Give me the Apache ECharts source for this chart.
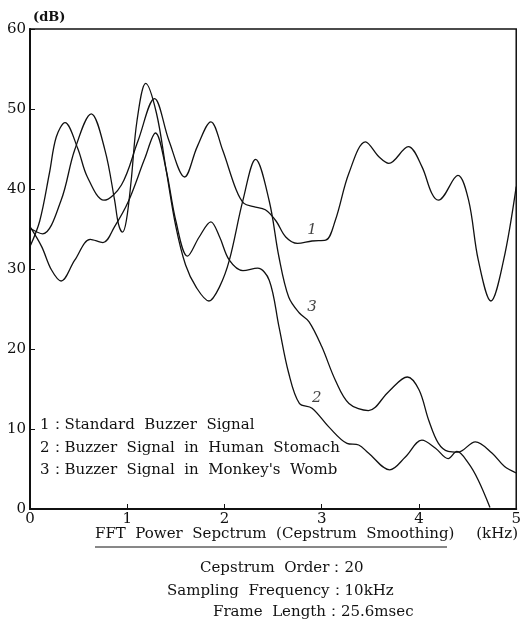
<!DOCTYPE html>
<html>
<head>
<meta charset="utf-8">
<script src="https://cdn.jsdelivr.net/npm/echarts@6/dist/echarts.min.js"></script>
<style>
html,body{margin:0;padding:0;background:#fff;}
#c{width:524px;height:621px;}
</style>
</head>
<body>
<div id="c"></div>
<script>
// ---- data (kHz, dB) ----
const std_kHz = [0,0.1,0.2,0.27,0.36,0.49,0.59,0.76,0.94,1.11,1.28,1.43,1.59,1.72,1.86,1.98,2.12,2.2,2.3,2.42,2.53,2.63,2.75,2.9,3.04,3.14,3.28,3.45,3.59,3.69,3.89,4.03,4.13,4.2,4.4,4.51,4.61,4.74,4.87,5.0];
const std_dB  = [32.8,36.0,42.0,46.5,48.3,45.1,41.5,38.6,40.5,46.0,51.3,46.0,41.5,45.3,48.4,44.9,39.9,38.2,37.8,37.4,36.0,34.0,33.2,33.5,33.6,36.1,42.0,45.9,44.0,43.2,45.3,42.8,39.5,38.6,41.7,38.6,31.1,26.0,31.1,40.3];

const stomach_kHz = [0,0.12,0.22,0.32,0.46,0.62,0.75,0.87,1.01,1.18,1.29,1.4,1.5,1.62,1.74,1.86,1.95,2.05,2.19,2.34,2.46,2.56,2.66,2.77,2.9,3.07,3.26,3.38,3.48,3.7,3.86,4.03,4.17,4.3,4.39,4.51,4.61,4.73];
const stomach_dB  = [35.3,32.8,29.9,28.5,31.1,33.7,33.3,35.3,38.4,43.8,47.0,42.4,36.0,31.6,34.0,35.9,34.0,31.1,29.8,30.1,28.6,22.8,17.0,13.2,12.6,10.3,8.2,8.0,7.0,4.9,6.5,8.6,7.6,6.3,7.2,5.7,3.6,0.2];

const womb_kHz = [0,0.13,0.32,0.46,0.63,0.77,0.87,0.91,0.95,0.99,1.04,1.1,1.19,1.3,1.4,1.5,1.6,1.71,1.84,1.95,2.05,2.19,2.32,2.46,2.56,2.66,2.77,2.87,3.0,3.14,3.28,3.48,3.69,3.88,4.0,4.1,4.2,4.3,4.4,4.58,4.75,4.88,5.0];
const womb_dB  = [35.1,34.4,38.6,44.9,49.4,44.9,38.6,35.6,34.6,36.0,41.0,48.5,53.2,49.5,42.4,35.3,30.5,27.7,26.0,27.8,31.1,38.6,43.7,38.5,31.5,26.5,24.5,23.4,20.3,16.1,13.2,12.3,14.7,16.5,14.9,11.1,8.2,7.2,7.1,8.4,7.0,5.3,4.5];

const curveTags = ['1','2','3'];
const tag_kHz = [2.9, 2.95, 2.9];
const tag_dB  = [34.9, 13.9, 25.2];

const legendLines = [
  '1：Standard  Buzzer  Signal',
  '2：Buzzer  Signal  in  Human  Stomach',
  "3：Buzzer  Signal  in  Monkey's  Womb"
];
const xTitle = 'FFT  Power  Sepctrum  (Cepstrum  Smoothing)';
const xUnit = '(kHz)';
const yUnit = '(dB)';
const notes = ['Cepstrum  Order：20', 'Sampling  Frequency：10kHz', 'Frame  Length：25.6msec'];

const pairs = (xs, ys) => xs.map((x, i) => [x, ys[i]]);
const FONT = 'DejaVu Serif';
const INK = '#111';

const lineSeries = (name, xs, ys) => ({
  name, type: 'line', data: pairs(xs, ys), smooth: 0.35, symbol: 'none',
  lineStyle: { color: INK, width: 1.3 }, silent: true, animation: false
});

const chart = echarts.init(document.getElementById('c'), null, { renderer: 'canvas' });
chart.setOption({
  backgroundColor: '#fff',
  animation: false,
  grid: { left: 30, right: 6, top: 29, bottom: 112, show: true, borderColor: INK, borderWidth: 1.5, backgroundColor: 'transparent' },
  xAxis: {
    type: 'value', min: 0, max: 5, interval: 1,
    axisLine: { show: true, lineStyle: { color: INK, width: 2 } },
    axisTick: { show: true, inside: true, length: 5, lineStyle: { color: INK, width: 1 } },
    axisLabel: { fontFamily: FONT, fontSize: 15, color: INK, margin: 3 },
    splitLine: { show: false }
  },
  yAxis: {
    type: 'value', min: 0, max: 60, interval: 10,
    axisLine: { show: true, lineStyle: { color: INK, width: 2 } },
    axisTick: { show: true, inside: true, length: 5, lineStyle: { color: INK, width: 1 } },
    axisLabel: { fontFamily: FONT, fontSize: 15, color: INK, margin: 4 },
    splitLine: { show: false }
  },
  series: [
    lineSeries('Standard Buzzer Signal', std_kHz, std_dB),
    lineSeries('Buzzer Signal in Human Stomach', stomach_kHz, stomach_dB),
    lineSeries("Buzzer Signal in Monkey's Womb", womb_kHz, womb_dB),
    {
      type: 'scatter', symbolSize: 0, silent: true,
      data: curveTags.map((t, i) => ({ value: [tag_kHz[i], tag_dB[i]], name: t })),
      label: { show: true, position: 'inside', formatter: p => p.name, fontFamily: FONT, fontStyle: 'italic', fontSize: 15, color: INK }
    }
  ],
  graphic: [
    { type: 'text', left: 33, top: 11, style: { text: yUnit, font: 'bold 13px "DejaVu Serif"', fill: INK } },
    { type: 'text', left: 40, top: 418, style: { text: legendLines[0], font: '15px "DejaVu Serif"', fill: INK } },
    { type: 'text', left: 40, top: 441, style: { text: legendLines[1], font: '15px "DejaVu Serif"', fill: INK } },
    { type: 'text', left: 40, top: 463, style: { text: legendLines[2], font: '15px "DejaVu Serif"', fill: INK } },
    { type: 'text', left: 95, top: 527, style: { text: xTitle, font: '15px "DejaVu Serif"', fill: INK } },
    { type: 'text', right: 6, top: 527, style: { text: xUnit, font: '15px "DejaVu Serif"', fill: INK } },
    { type: 'line', shape: { x1: 95, y1: 547, x2: 447, y2: 547 }, style: { stroke: INK, lineWidth: 1 } },
    { type: 'text', left: 200, top: 561, style: { text: notes[0], font: '15px "DejaVu Serif"', fill: INK } },
    { type: 'text', left: 167, top: 584, style: { text: notes[1], font: '15px "DejaVu Serif"', fill: INK } },
    { type: 'text', left: 213, top: 605, style: { text: notes[2], font: '15px "DejaVu Serif"', fill: INK } }
  ]
});
</script>
</body>
</html>
